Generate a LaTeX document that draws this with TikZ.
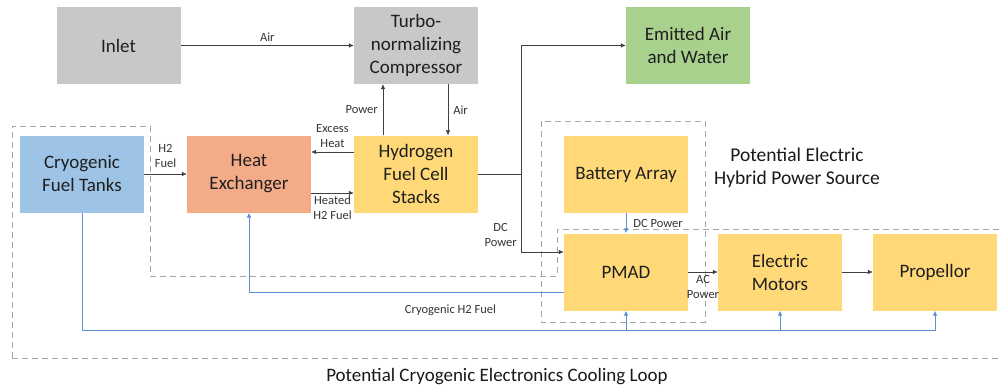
\documentclass[tikz,border=0pt]{standalone}
\usepackage{fontspec}
\setmainfont{Carlito}
\usepackage{tikz}
\usetikzlibrary{
  arrows.meta,
  positioning,
  calc
}
\definecolor{pwGray}{HTML}{C8C8C8}
\definecolor{pwGreen}{HTML}{A9D18E}
\definecolor{pwBlue}{HTML}{9DC3E6}
\definecolor{pwSalmon}{HTML}{F4AC88}
\definecolor{pwYellow}{HTML}{FFD878}
\definecolor{pwLine}{HTML}{404040}
\definecolor{pwCool}{HTML}{5B8FD6}
\definecolor{pwZone}{HTML}{A6A6A6}
\tikzset{
  pwbox/.style={
    minimum width=124pt, minimum height=77pt, inner sep=2pt,
    align=center, font=\fontsize{19}{23}\selectfont, text=black!88
  },
  graybox/.style={pwbox, fill=pwGray},
  greenbox/.style={pwbox, fill=pwGreen},
  bluebox/.style={pwbox, fill=pwBlue},
  salmonbox/.style={pwbox, fill=pwSalmon},
  yellowbox/.style={pwbox, fill=pwYellow},
  flow/.style={-{Latex[length=5pt, width=4.5pt]}, pwLine, line width=0.6pt},
  coolant/.style={-{Latex[length=5pt, width=4.5pt]}, pwCool, line width=0.8pt},
  zone/.style={draw=pwZone, dash pattern=on 6pt off 4pt, line width=0.8pt},
  tag/.style={font=\fontsize{12.5}{15}\selectfont, align=center, text=black!80, inner sep=1pt},
  caption/.style={font=\fontsize{19.5}{23}\selectfont, align=center, text=black!90}
}

\begin{document}
\begin{tikzpicture}[x=1pt, y=-1pt]
  \useasboundingbox (0,0) rectangle (1001,388);

  % dashed zones
  \draw[zone] (12,358) -- (12,126) -- (150,126) -- (150,276) -- (557,276)
    -- (557,229) -- (1010,229);
  \draw[zone] (12,358) -- (1010,358);
  \draw[zone] (541,121) rectangle (705,322);

  % blocks
  \node[graybox] (inlet) at (118.5,45.5) {Inlet};
  \node[graybox] (comp) at (416,45.5) {Turbo-\\normalizing\\Compressor};
  \node[greenbox] (emit) at (688,45.5) {Emitted Air\\and Water};
  \node[bluebox] (tanks) at (82,174) {Cryogenic\\Fuel Tanks};
  \node[salmonbox] (hx) at (249,174) {Heat\\Exchanger};
  \node[yellowbox] (fc) at (416,174) {Hydrogen\\Fuel Cell\\Stacks};
  \node[yellowbox] (batt) at (626,174.5) {Battery Array};
  \node[yellowbox] (pmad) at (626,272) {PMAD};
  \node[yellowbox] (motors) at (780,272) {Electric\\Motors};
  \node[yellowbox] (prop) at (935,272) {Propellor};

  \node[caption] (hybridtxt) at (797,168) {Potential Electric\\Hybrid Power Source};
  \node[caption, font=\fontsize{19}{23}\selectfont] (looptxt) at (497,377) {Potential Cryogenic Electronics Cooling Loop};

  % air and heat
  \draw[flow] (inlet) -- node[tag, above=3pt] {Air} (comp);
  \draw[flow] ([xshift=32pt]comp.south) -- node[tag, right=4pt] {Air} ([xshift=32pt]fc.north);
  \draw[flow] ([xshift=-33pt]fc.north) -- node[tag, left=4pt] {Power} ([xshift=-33pt]comp.south);
  \draw[flow] ([yshift=22pt]fc.west) -- node[tag, above=3pt] {Excess\\Heat} ([yshift=22pt]hx.east);
  \draw[flow] (tanks) -- node[tag, above=5pt] {H2\\Fuel} (hx);
  \draw[flow] ([yshift=-19pt]hx.east) -- node[tag, below=2pt] {Heated\\H2 Fuel} ([yshift=-19pt]fc.west);

  % power
  \coordinate (split) at (521,174);
  \coordinate (dcin) at ([yshift=20pt]pmad.west);
  \draw[flow] (fc.east) -- (split) |- (emit.west);
  \draw[flow] (split) -- node[tag, left=3pt, pos=0.78] {DC\\Power} (split |- dcin) -- (dcin);
  \draw[coolant] (batt) -- node[tag, right=6pt, text=black!80] {DC Power} (pmad);
  \draw[flow] (pmad) -- node[tag, below=2pt] {AC\\Power} (motors);
  \draw[flow] (motors) -- (prop);

  % cryogenic fuel
  \draw[coolant] ([yshift=-20pt]pmad.west) -| node[tag, below=11pt, pos=0.18] {Cryogenic H2 Fuel} (hx.south);
  \coordinate (coolbus) at (0,330);
  \draw[coolant] (tanks.south) |- (prop.south |- coolbus) -- (prop.south);
  \foreach \blk in {pmad, motors}
    \draw[coolant] (\blk.south |- coolbus) -- (\blk.south);
\end{tikzpicture}
\end{document}
